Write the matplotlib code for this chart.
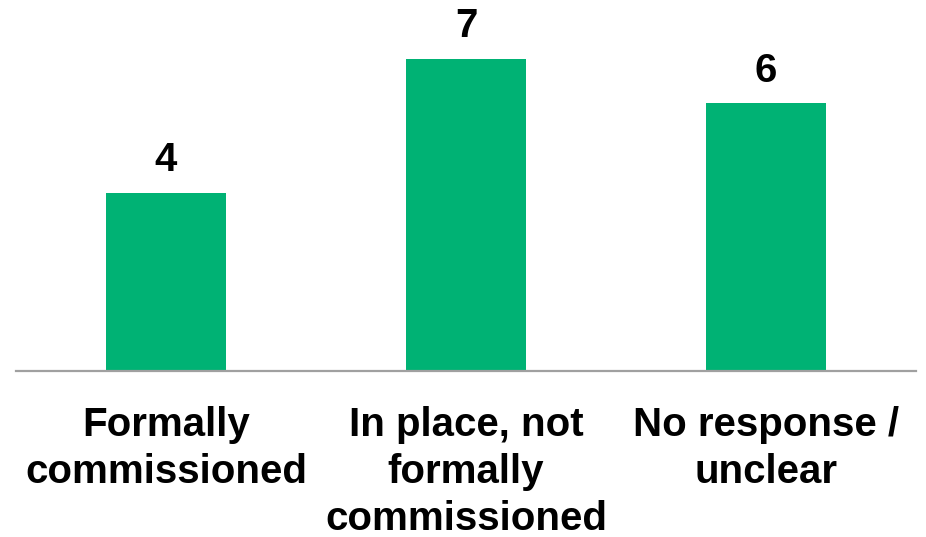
import matplotlib
matplotlib.use("Agg")
import matplotlib.pyplot as plt

categories = ["Formally\ncommissioned", "In place, not\nformally\ncommissioned", "No response /\nunclear"]
values = [4, 7, 6]

plt.rcParams['font.family'] = ['Liberation Sans', 'DejaVu Sans']

W, H = 926, 537
fig = plt.figure(figsize=(W/100, H/100), dpi=100)
ax = fig.add_axes([16/W, (H-371)/H, 900/W, 351/H])
x = list(range(len(categories)))
ax.bar(x, values, width=0.4, color="#00B274", zorder=2)
ax.set_xlim(-0.5, 2.5)
ax.set_ylim(0, 351/44.6)
for xi, v in zip(x, values):
    ax.text(xi, v + 0.3, str(v), ha="center", va="bottom", fontsize=29, fontweight="bold", color="black")
ax.set_xticks(x)
ax.set_xticklabels(categories, fontsize=29, fontweight="bold", linespacing=1.3)
ax.tick_params(axis="x", length=0, pad=25)
ax.set_yticks([])
for s in ["top", "left", "right"]:
    ax.spines[s].set_visible(False)
ax.spines["bottom"].set_color("#A0A0A0")
ax.spines["bottom"].set_linewidth(1.6)
ax.spines["bottom"].set_zorder(3)
fig.savefig("out.png", dpi=100)
